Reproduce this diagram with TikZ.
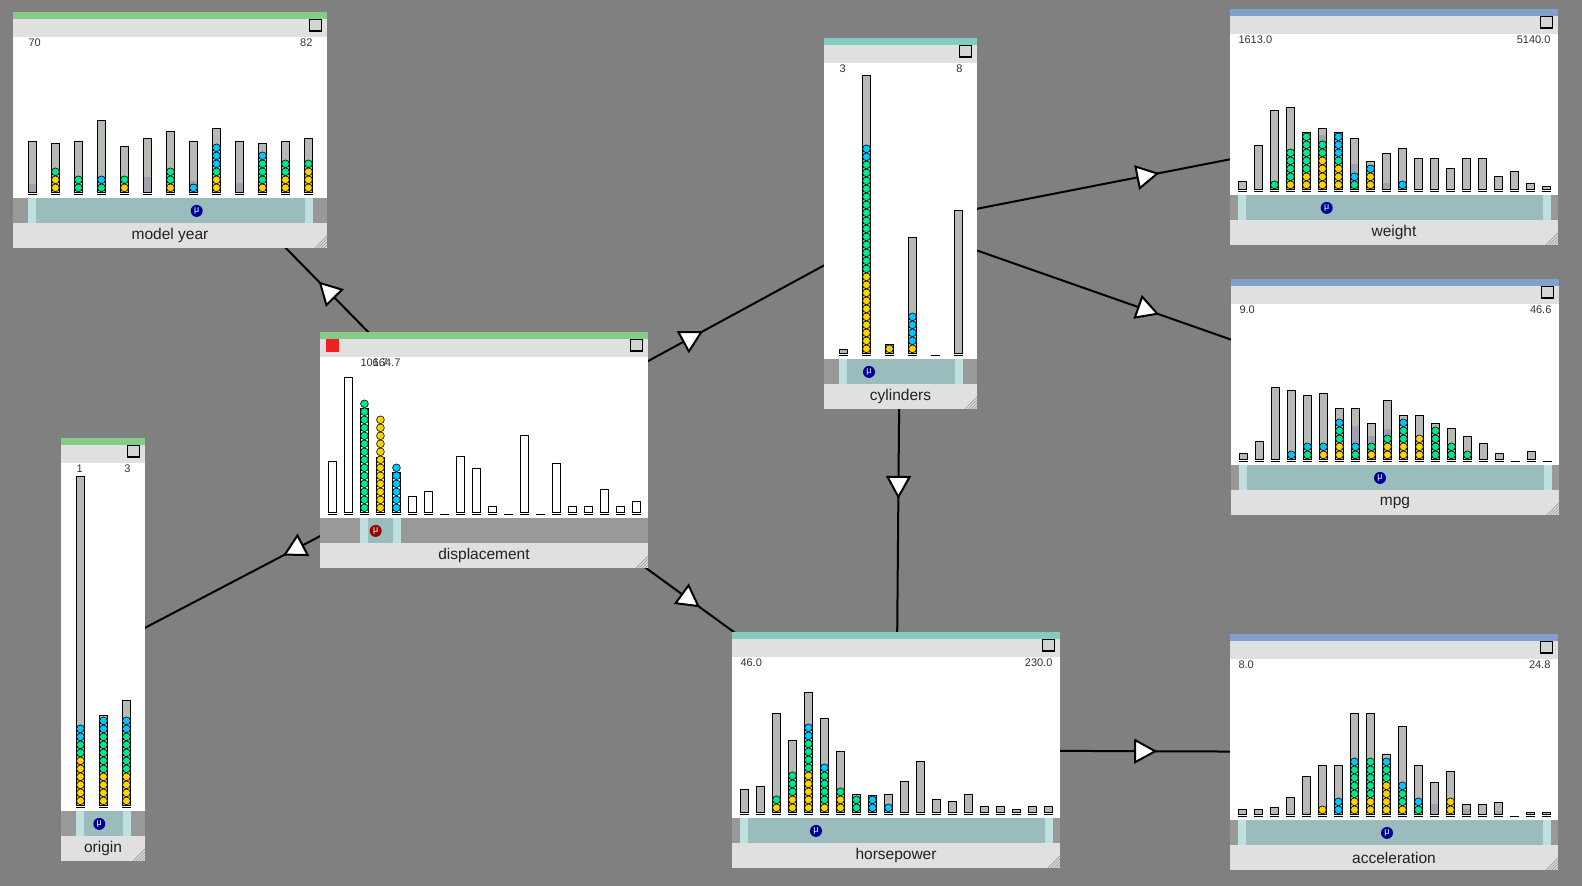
\documentclass[tikz,border=0pt]{standalone}
\usepackage{fontspec}
\setmainfont{Liberation Sans}
\usetikzlibrary{decorations.markings}

\definecolor{canvasgrey}{RGB}{128,128,128}
\definecolor{headgrey}{RGB}{224,224,224}
\definecolor{slidegrey}{RGB}{153,153,153}
\definecolor{slideteal}{RGB}{155,188,189}
\definecolor{handlecyan}{RGB}{192,224,224}
\definecolor{bargrey}{RGB}{181,186,181}
\definecolor{lavgrey}{RGB}{160,160,176}
\definecolor{dotyellow}{RGB}{255,210,0}
\definecolor{dotgreen}{RGB}{0,232,140}
\definecolor{dotblue}{RGB}{0,200,255}
\definecolor{bandgreen}{RGB}{132,204,136}
\definecolor{bandteal}{RGB}{132,204,192}
\definecolor{bandblue}{RGB}{130,160,204}
\definecolor{munavy}{RGB}{0,0,150}
\definecolor{mured}{RGB}{150,0,0}
\definecolor{pickred}{RGB}{238,34,34}

\pgfdeclarelayer{links}
\pgfsetlayers{links,main}

\tikzset{
  panelbox/.style={rectangle, inner sep=0pt, draw=none},
  paneltitle/.style={font=\fontsize{15.5}{18}\selectfont, text=black!87, inner sep=0pt},
  rangelabel/.style={font=\fontsize{11}{13}\selectfont, text=black!80, inner sep=0pt},
  histbar/.style={draw=black, line width=1pt},
  histdot/.style={draw=black, line width=0.6pt},
  mubadge/.style={circle, inner sep=0pt, minimum size=12pt, text=white, font=\fontsize{9}{9}\selectfont},
  flow/.style={draw=black, line width=2pt, postaction={decorate},
    decoration={markings, mark=at position 0.5 with {\draw[fill=white, line width=2pt, line join=miter] (10pt,0pt) -- (-10pt,11pt) -- (-10pt,-11pt) -- cycle;}}}
}

\newcommand{\histpanel}[7]{%
  \node[panelbox, minimum width=#4pt, minimum height=#5pt, anchor=north west] (#1) at (#2,#3) {};
  \begin{scope}[shift={(#1.north west)}]
    \fill[#6] (0,0) rectangle (#4,7);
    \fill[headgrey] (0,7) rectangle (#4,25);
    \fill[white] (0,25) rectangle (#4,#5-50);
    \fill[slidegrey] (0,#5-50) rectangle (#4,#5-25);
    \fill[headgrey] (0,#5-25) rectangle (#4,#5);
    \filldraw[fill=black!17, draw=black, line width=0.8pt] (#4-18,7.5) rectangle (#4-6,19);
    \draw[line width=1.6pt] (#4-18,18.4) -- (#4-6,18.4);
    \foreach \gk in {3,6,9,12}
      \draw[black!35, line width=0.8pt] (#4-\gk,#5) -- (#4,#5-\gk);
    \node[paneltitle] (#1-title) at (#4/2,#5-12.5) {#7};
  \end{scope}
}

\newcommand{\histslider}[7]{%
  \begin{scope}[shift={(#1.south west)}]
    \fill[handlecyan] (#2,-50) rectangle (#3,-25);
    \fill[slideteal] (#2+8,-50) rectangle (#3-8,-25);
    \node[mubadge, fill=#5] (#1-mu) at (#4,-37.5) {μ};
  \end{scope}
  \begin{scope}[shift={(#1.north west)}]
    \node[rangelabel, anchor=west] (#1-min) at (#2,30.3) {#6};
    \node[rangelabel, anchor=east] (#1-max) at (#3,30.3) {#7};
  \end{scope}
}

\newcommand{\histbars}[5]{%
  \begin{scope}[shift={(#1.south west)}]
    \foreach \h/\l/\ny/\ng/\nb [count=\i from 0] in {#5}{
      \pgfmathsetmacro\bx{#2+\i*#3}
      \draw[line width=1pt] (\bx,-53.6) -- (\bx+8.3,-53.6);
      \ifdim\h pt>0pt
        \fill[#4] (\bx,-56.3) rectangle (\bx+8.3,-56.3-\h);
        \ifdim\l pt>0pt \fill[lavgrey] (\bx,-56.3) rectangle (\bx+8.3,-56.3-\l); \fi
        \draw[histbar] (\bx,-56.3) rectangle (\bx+8.3,-56.3-\h);
      \fi
      \pgfmathtruncatemacro\tot{\ny+\ng+\nb}
      \ifnum\tot>0
        \foreach \k in {1,...,\tot}{
          \ifnum\k>\numexpr\ny+\ng\relax \def\dc{dotblue}\else\ifnum\k>\ny\relax \def\dc{dotgreen}\else\def\dc{dotyellow}\fi\fi
          \filldraw[histdot, fill=\dc] (\bx+4.15,-60.6-8*\k+8) circle[radius=3.9pt];
        }
      \fi
    }
  \end{scope}
}

\begin{document}
\begin{tikzpicture}[x=1pt, y=-1pt]
\begin{pgfonlayer}{links}
  \fill[canvasgrey] (0,0) rectangle (1582,886);
\end{pgfonlayer}
\useasboundingbox (0,0) rectangle (1582,886);

\histpanel{modelyear}{13}{12}{314}{236}{bandgreen}{model year}
\histslider{modelyear}{15.3}{299.6}{183.7}{munavy}{70}{82}
\histbars{modelyear}{15.3}{23}{bargrey}{50.3/7.7/0/0/0, 48.3/0/2/1/0, 50.3/0/0/2/0, 71.3/0/0/1/1, 45.3/0/1/1/0, 53.3/14.7/0/0/0, 60.3/0/1/2/0, 50.3/11.3/0/0/1, 63.7/0/2/1/3, 50.3/9.3/0/0/0, 48.3/0/1/3/1, 50.3/0/2/2/0, 53.3/0/3/1/0}

\histpanel{displacement}{320}{332}{328}{236}{bandgreen}{displacement}
\fill[pickred] ([shift={(6,7)}]displacement.north west) rectangle ([shift={(19,20)}]displacement.north west);
\histslider{displacement}{40.3}{80.6}{55.7}{mured}{106.7}{164.7}
\histbars{displacement}{8.3}{16}{white}{50.3/0/0/0/0, 134.3/0/0/0/0, 104/0/0/14/0, 55/0/12/0/0, 40/0/0/0/6, 15.7/0/0/0/0, 20.7/0/0/0/0, 0/0/0/0/0, 55.7/0/0/0/0, 43.7/0/0/0/0, 5.7/0/0/0/0, 0/0/0/0/0, 76.7/0/0/0/0, 0/0/0/0/0, 48.3/0/0/0/0, 5.7/0/0/0/0, 5.7/0/0/0/0, 22.7/0/0/0/0, 5.7/0/0/0/0, 10.7/0/0/0/0}

\histpanel{cylinders}{824}{38}{153}{371}{bandteal}{cylinders}
\histslider{cylinders}{15.3}{138.6}{45}{munavy}{3}{8}
\histbars{cylinders}{15.3}{23}{bargrey}{3.3/0/0/0/0, 277.3/0/10/14/2, 8.7/0/1/0/0, 115.3/0/1/0/4, 0/0/0/0/0, 142.3/0/0/0/0}

\histpanel{weight}{1230}{9}{328}{236}{bandblue}{weight}
\histslider{weight}{8.3}{320.6}{96.7}{munavy}{1613.0}{5140.0}
\histbars{weight}{8.3}{16}{bargrey}{7.3/0/0/0/0, 43.3/0/0/0/0, 78.3/0/0/1/0, 81.3/0/1/4/0, 56.3/0/2/5/0, 60.3/53.7/4/2/0, 56.3/0/3/1/3, 50.3/25.3/0/1/1, 27.3/0/2/0/1, 35.3/6/0/0/0, 40.3/0/0/0/1, 30.3/0/0/0/0, 30.3/0/0/0/0, 20.3/0/0/0/0, 30.3/0/0/0/0, 30.3/0/0/0/0, 12.3/0/0/0/0, 17.3/0/0/0/0, 5.3/0/0/0/0, 2.3/0/0/0/0}

\histpanel{mpg}{1231}{279}{328}{236}{bandblue}{mpg}
\histslider{mpg}{8.3}{320.6}{149}{munavy}{9.0}{46.6}
\histbars{mpg}{8.3}{16}{bargrey}{5.3/0/0/0/0, 17.3/0/0/0/0, 71.3/0/0/0/0, 68.3/0/0/0/1, 63.3/0/0/1/1, 65.3/0/1/0/1, 50.3/0/2/2/1, 50.3/33.3/0/1/1, 35.3/23.3/1/1/0, 58.3/30.3/2/1/0, 43.3/0/2/2/1, 43.3/0/3/0/0, 35.3/0/0/4/0, 30.3/0/0/2/0, 22.3/0/0/1/0, 15.3/0/0/0/0, 5.3/0/0/0/0, 0/0/0/0/0, 7.3/0/0/0/0, 0/0/0/0/0}

\histpanel{horsepower}{732}{632}{328}{236}{bandteal}{horsepower}
\histslider{horsepower}{8.3}{320.6}{84}{munavy}{46.0}{230.0}
\histbars{horsepower}{8.3}{16}{bargrey}{22.3/0/0/0/0, 25.3/0/0/0/0, 98.3/0/1/1/0, 71.3/0/2/3/0, 119.3/0/5/4/2, 93.3/0/1/4/1, 60.3/0/2/1/0, 17.3/0/0/2/0, 16.7/0/0/0/2, 17.3/0/0/0/1, 30.3/0/0/0/0, 50.3/0/0/0/0, 12.3/0/0/0/0, 10.3/0/0/0/0, 17.3/0/0/0/0, 5.3/0/0/0/0, 5.3/0/0/0/0, 2.3/0/0/0/0, 5.3/0/0/0/0, 5.3/0/0/0/0}

\histpanel{acceleration}{1230}{634}{328}{236}{bandblue}{acceleration}
\histslider{acceleration}{8.3}{320.6}{157}{munavy}{8.0}{24.8}
\histbars{acceleration}{8.3}{16}{bargrey}{5/0/0/0/0, 5/0/0/0/0, 7/0/0/0/0, 17/0/0/0/0, 38/2/0/0/0, 48.3/0/1/0/0, 48.3/0/0/0/2, 101/0/2/4/1, 101/0/2/5/0, 60/0/4/2/1, 88/0/1/2/1, 48.3/0/0/1/1, 32/10.3/0/0/0, 43/0/2/0/0, 10/5/0/0/0, 10/0/0/0/0, 12/3/0/0/0, 0/0/0/0/0, 2/0/0/0/0, 2/0/0/0/0}

\histpanel{origin}{61}{438}{84}{423}{bandgreen}{origin}
\histslider{origin}{15.3}{69.6}{38.3}{munavy}{1}{3}
\histbars{origin}{15.3}{23}{bargrey}{329/0/6/2/2, 90/0/4/5/2, 105/0/4/5/2}

\begin{pgfonlayer}{links}
  \draw[flow] (displacement.center) -- (modelyear.center);
  \draw[flow] (displacement.center) -- (origin.center);
  \draw[flow] (displacement.center) -- (cylinders.center);
  \draw[flow] (cylinders.center) -- (weight.center);
  \draw[flow] (cylinders.center) -- (mpg.center);
  \draw[flow] (cylinders.center) -- (horsepower.center);
  \draw[flow] (displacement.center) -- (horsepower.center);
  \draw[flow] (horsepower.center) -- (acceleration.center);
\end{pgfonlayer}
\end{tikzpicture}
\end{document}
